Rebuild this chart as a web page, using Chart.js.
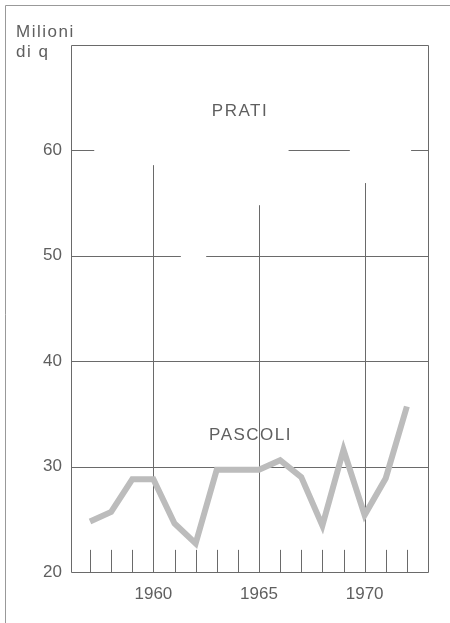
<!DOCTYPE html>
<html>
<head>
<meta charset="utf-8">
<script src="https://cdn.jsdelivr.net/npm/chart.js@4"></script>
<style>
  html, body { margin: 0; padding: 0; background: #fff; }
  #wrap { width: 450px; height: 623px; }
</style>
</head>
<body>
<div id="wrap"><canvas id="lineChart" width="450" height="623"></canvas></div>
<script>
// Pascoli production, millions of quintals
const years = [1957, 1958, 1959, 1960, 1961, 1962, 1963, 1964, 1965, 1966, 1967, 1968, 1969, 1970, 1971, 1972];
const pascoli = [24.8, 25.7, 28.8, 28.8, 24.6, 22.7, 29.7, 29.7, 29.7, 30.6, 29.0, 24.4, 31.6, 25.4, 28.9, 35.7];
const yTicks = [20, 30, 40, 50, 60];
const xTicks = [1960, 1965, 1970];

const ink = '#5f5f5f';
const gridColor = '#6a6a6a';
const fontFamily = '"Liberation Sans", Arial, sans-serif';

// broken grid like the print: [from, to] in data units
const hGrid = [
    { y: 60, parts: [[1956.1, 1957.2], [1966.4, 1969.3], [1972.2, 1973]] },
    { y: 50, parts: [[1956.1, 1961.3], [1962.5, 1973]] },
    { y: 40, parts: [[1956.1, 1973]] },
    { y: 30, parts: [[1956.1, 1973]] }
];
const vGrid = [
    { x: 1960, top: 58.6 },
    { x: 1965, top: 54.8 },
    { x: 1970, top: 56.9 }
];

const decor = {
    id: 'decor',
    beforeDraw(chart) {
        const ctx = chart.ctx;
        ctx.save();
        ctx.strokeStyle = '#999';
        ctx.lineWidth = 1;
        ctx.beginPath();
        ctx.moveTo(5.5, 623);
        ctx.lineTo(5.5, 5.5);
        ctx.lineTo(450, 5.5);
        ctx.stroke();
        ctx.restore();
    },
    beforeDatasetsDraw(chart) {
        const ctx = chart.ctx;
        const xs = chart.scales.x, ys = chart.scales.y;
        const a = chart.chartArea;
        ctx.save();
        ctx.strokeStyle = gridColor;
        ctx.lineWidth = 1;
        ctx.beginPath();
        hGrid.forEach(g => {
            const py = Math.round(ys.getPixelForValue(g.y)) + 0.5;
            g.parts.forEach(p => {
                ctx.moveTo(xs.getPixelForValue(p[0]), py);
                ctx.lineTo(xs.getPixelForValue(p[1]), py);
            });
        });
        vGrid.forEach(g => {
            const px = Math.round(xs.getPixelForValue(g.x)) + 0.5;
            ctx.moveTo(px, ys.getPixelForValue(g.top));
            ctx.lineTo(px, a.bottom);
        });
        // small year ticks
        years.forEach(y => {
            if (xTicks.includes(y)) return;
            const px = Math.round(xs.getPixelForValue(y)) + 0.5;
            ctx.moveTo(px, a.bottom);
            ctx.lineTo(px, ys.getPixelForValue(22.1));
        });
        ctx.stroke();
        // frame of the plot
        ctx.beginPath();
        ctx.moveTo(Math.round(a.left) + 0.5, Math.round(a.top) + 0.5);
        ctx.lineTo(Math.round(a.right) + 0.5, Math.round(a.top) + 0.5);
        ctx.lineTo(Math.round(a.right) + 0.5, Math.round(a.bottom) + 0.5);
        ctx.lineTo(Math.round(a.left) + 0.5, Math.round(a.bottom) + 0.5);
        ctx.closePath();
        ctx.stroke();
        ctx.restore();
    },
    afterDraw(chart) {
        const ctx = chart.ctx;
        const xs = chart.scales.x, ys = chart.scales.y;
        ctx.save();
        ctx.fillStyle = ink;
        ctx.font = '17px ' + fontFamily;
        ctx.letterSpacing = '1.5px';
        ctx.textBaseline = 'middle';
        ctx.textAlign = 'center';
        ctx.fillText('PRATI', xs.getPixelForValue(1964.1), ys.getPixelForValue(63.7));
        ctx.fillText('PASCOLI', xs.getPixelForValue(1964.6), ys.getPixelForValue(33.0));
        ctx.textAlign = 'left';
        ctx.fillText('Milioni', 16, 32);
        ctx.fillText('di q', 16, 52);
        ctx.restore();
    }
};

const ctx = document.getElementById('lineChart').getContext('2d');
const myLineChart = new Chart(ctx, {
    type: 'line',
    data: {
        datasets: [{
            label: 'Pascoli',
            data: years.map((y, i) => ({ x: y, y: pascoli[i] })),
            borderColor: '#bcbcbc',
            borderWidth: 6,
            pointRadius: 0,
            tension: 0,
            fill: false
        }]
    },
    options: {
        responsive: false,
        animation: false,
        layout: { padding: { left: 0, right: 22, top: 45, bottom: 0 } },
        plugins: { legend: { display: false }, tooltip: { enabled: false } },
        scales: {
            x: {
                type: 'linear',
                min: 1956.1,
                max: 1973,
                afterBuildTicks: s => { s.ticks = xTicks.map(v => ({ value: v })); },
                afterFit: s => { s.height = 51; },
                grid: { display: false, drawTicks: false },
                border: { display: false },
                ticks: {
                    color: ink,
                    padding: 12,
                    maxRotation: 0,
                    font: { family: fontFamily, size: 17 },
                    callback: v => String(v)
                }
            },
            y: {
                min: 20,
                max: 70,
                afterBuildTicks: s => { s.ticks = yTicks.map(v => ({ value: v })); },
                afterFit: s => { s.width = 71; },
                grid: { display: false, drawTicks: false },
                border: { display: false },
                ticks: {
                    color: ink,
                    padding: 9,
                    font: { family: fontFamily, size: 17 }
                }
            }
        }
    },
    plugins: [decor]
});
</script>
</body>
</html>
